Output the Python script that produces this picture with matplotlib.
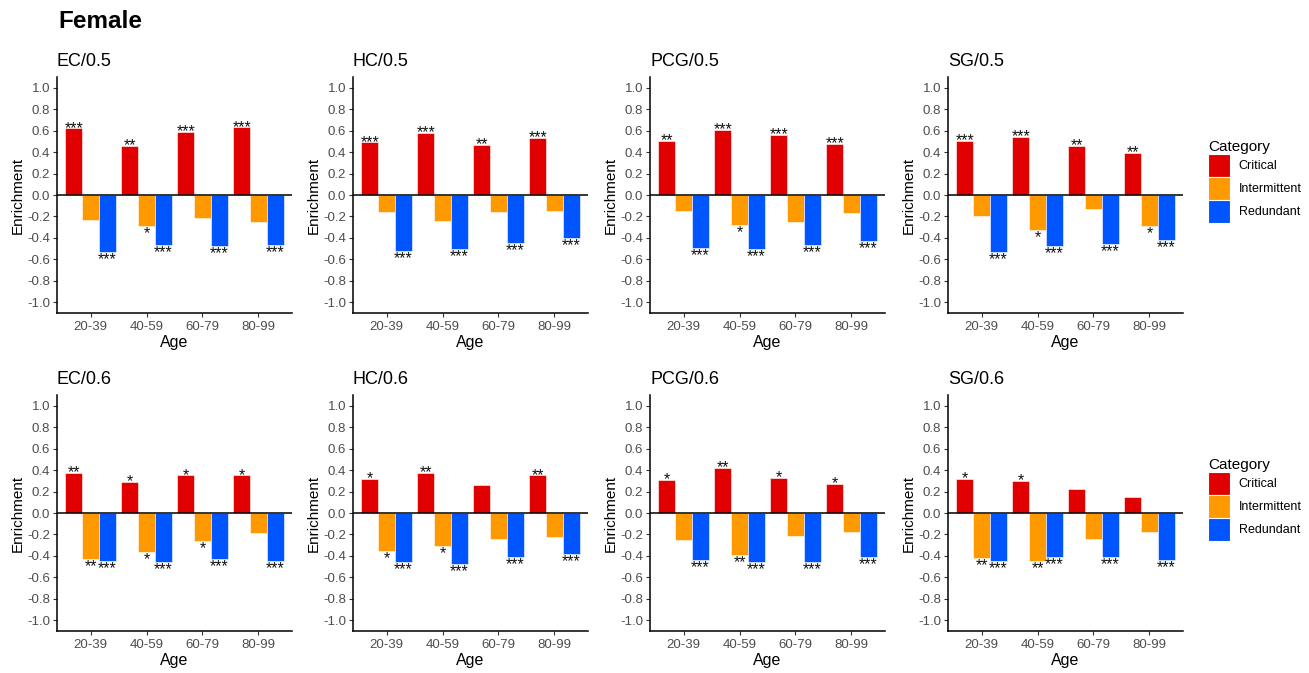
import numpy as np
import matplotlib.pyplot as plt
from matplotlib.patches import Patch
from matplotlib.textpath import TextPath
from matplotlib.font_manager import FontProperties

plt.rcParams['font.family'] = ['Liberation Sans', 'DejaVu Sans']

# ---- data ----
ages = ["20-39", "40-59", "60-79", "80-99"]
categories = ["Critical", "Intermittent", "Redundant"]
colors = ["#E00000", "#FF9900", "#0055FF"]

# rows: Critical, Intermittent, Redundant
ec05 = [[0.62, 0.46, 0.59, 0.63], [-0.23, -0.29, -0.21, -0.25], [-0.53, -0.47, -0.48, -0.47]]
hc05 = [[0.49, 0.58, 0.47, 0.53], [-0.16, -0.24, -0.16, -0.15], [-0.52, -0.50, -0.45, -0.40]]
pcg05 = [[0.50, 0.61, 0.56, 0.48], [-0.15, -0.28, -0.25, -0.17], [-0.49, -0.50, -0.47, -0.43]]
sg05 = [[0.50, 0.54, 0.46, 0.39], [-0.20, -0.33, -0.13, -0.29], [-0.53, -0.48, -0.46, -0.42]]
ec06 = [[0.37, 0.29, 0.35, 0.35], [-0.43, -0.36, -0.26, -0.19], [-0.45, -0.46, -0.43, -0.45]]
hc06 = [[0.32, 0.37, 0.26, 0.35], [-0.35, -0.31, -0.24, -0.22], [-0.46, -0.48, -0.41, -0.38]]
pcg06 = [[0.31, 0.42, 0.33, 0.27], [-0.25, -0.39, -0.21, -0.18], [-0.44, -0.46, -0.46, -0.41]]
sg06 = [[0.32, 0.30, 0.22, 0.15], [-0.42, -0.45, -0.24, -0.18], [-0.45, -0.41, -0.41, -0.44]]

ec05_sig = [["***", "**", "***", "***"], ["", "*", "", ""], ["***", "***", "***", "***"]]
hc05_sig = [["***", "***", "**", "***"], ["", "", "", ""], ["***", "***", "***", "***"]]
pcg05_sig = [["**", "***", "***", "***"], ["", "*", "", ""], ["***", "***", "***", "***"]]
sg05_sig = [["***", "***", "**", "**"], ["", "*", "", "*"], ["***", "***", "***", "***"]]
ec06_sig = [["**", "*", "*", "*"], ["**", "*", "*", ""], ["***", "***", "***", "***"]]
hc06_sig = [["*", "**", "", "**"], ["*", "*", "", ""], ["***", "***", "***", "***"]]
pcg06_sig = [["*", "**", "*", "*"], ["", "**", "", ""], ["***", "***", "***", "***"]]
sg06_sig = [["*", "*", "", ""], ["**", "**", "", ""], ["***", "***", "***", "***"]]

panels = [
    ("EC/0.5", ec05, ec05_sig), ("HC/0.5", hc05, hc05_sig),
    ("PCG/0.5", pcg05, pcg05_sig), ("SG/0.5", sg05, sg05_sig),
    ("EC/0.6", ec06, ec06_sig), ("HC/0.6", hc06, hc06_sig),
    ("PCG/0.6", pcg06, pcg06_sig), ("SG/0.6", sg06, sg06_sig),
]

W, H = 1309, 673
fig = plt.figure(figsize=(W / 100, H / 100), dpi=100)

col_left = [57, 353, 650, 948]
row_top = [77, 395]
ax_w, ax_h = 235, 236

x = np.arange(1, len(ages) + 1)
bw = 0.3
tick_grey = "#4D4D4D"
yticks = np.round(np.arange(-1.0, 1.01, 0.2), 1) + 0.0

# glyph extent of the asterisk, so the stars sit just off the bar ends
star_fs = 11.5
star_ext = TextPath((0, 0), "*", size=star_fs,
                    prop=FontProperties(family="Liberation Sans")).get_extents()
gap = 0.8  # points

for i, (title, vals, sig) in enumerate(panels):
    r, c = divmod(i, 4)
    ax = fig.add_axes([col_left[c] / W, 1 - (row_top[r] + ax_h) / H, ax_w / W, ax_h / H])
    for k, cat in enumerate(categories):
        xs = x + (k - 1) * bw
        v = np.array(vals[k])
        ax.bar(xs, v, width=bw, color=colors[k], edgecolor="white", linewidth=0.4, zorder=2)
        for xx, yy, s in zip(xs, v, sig[k]):
            if not s:
                continue
            dy = gap - star_ext.y0 if yy >= 0 else -gap - star_ext.y1
            ax.annotate(s, (xx, yy), xytext=(0, dy), textcoords="offset points",
                        ha="center", va="baseline", fontsize=star_fs, color="#111111")
    ax.axhline(0, color="black", linewidth=1.1, zorder=3)
    ax.set_xlim(0.4, 4.6)
    ax.set_ylim(-1.1, 1.1)
    ax.set_xticks(x)
    ax.set_xticklabels(ages)
    ax.set_yticks(yticks)
    ax.set_yticklabels([f"{abs(t):.1f}" if t == 0 else f"{t:.1f}" for t in yticks])
    ax.tick_params(axis="both", labelsize=9.5, labelcolor=tick_grey, color="#333333",
                   length=3, width=0.8, pad=2)
    ax.tick_params(axis="x", pad=3)
    for sp in ["top", "right"]:
        ax.spines[sp].set_visible(False)
    for sp in ["left", "bottom"]:
        ax.spines[sp].set_linewidth(1.1)
        ax.spines[sp].set_color("black")
    ax.set_xlabel("Age", fontsize=11.5, labelpad=1)
    ax.set_ylabel("Enrichment", fontsize=11, labelpad=2)
    ax.set_title(title, loc="left", fontsize=13, pad=8)

fig.text(58 / W, 1 - 22 / H, "Female", fontsize=17.5, fontweight="bold", va="center")

handles = [Patch(facecolor=col, edgecolor="white", linewidth=0.8) for col in colors]
for top in [135, 453]:
    fig.legend(handles, categories, title="Category", loc="upper left",
               bbox_to_anchor=(1203 / W, 1 - top / H), frameon=False,
               fontsize=9, title_fontsize=11, handlelength=1.76, handleheight=2.46,
               labelspacing=0.0, handletextpad=0.7, alignment="left", borderaxespad=0)

fig.savefig("out.png", dpi=100)
